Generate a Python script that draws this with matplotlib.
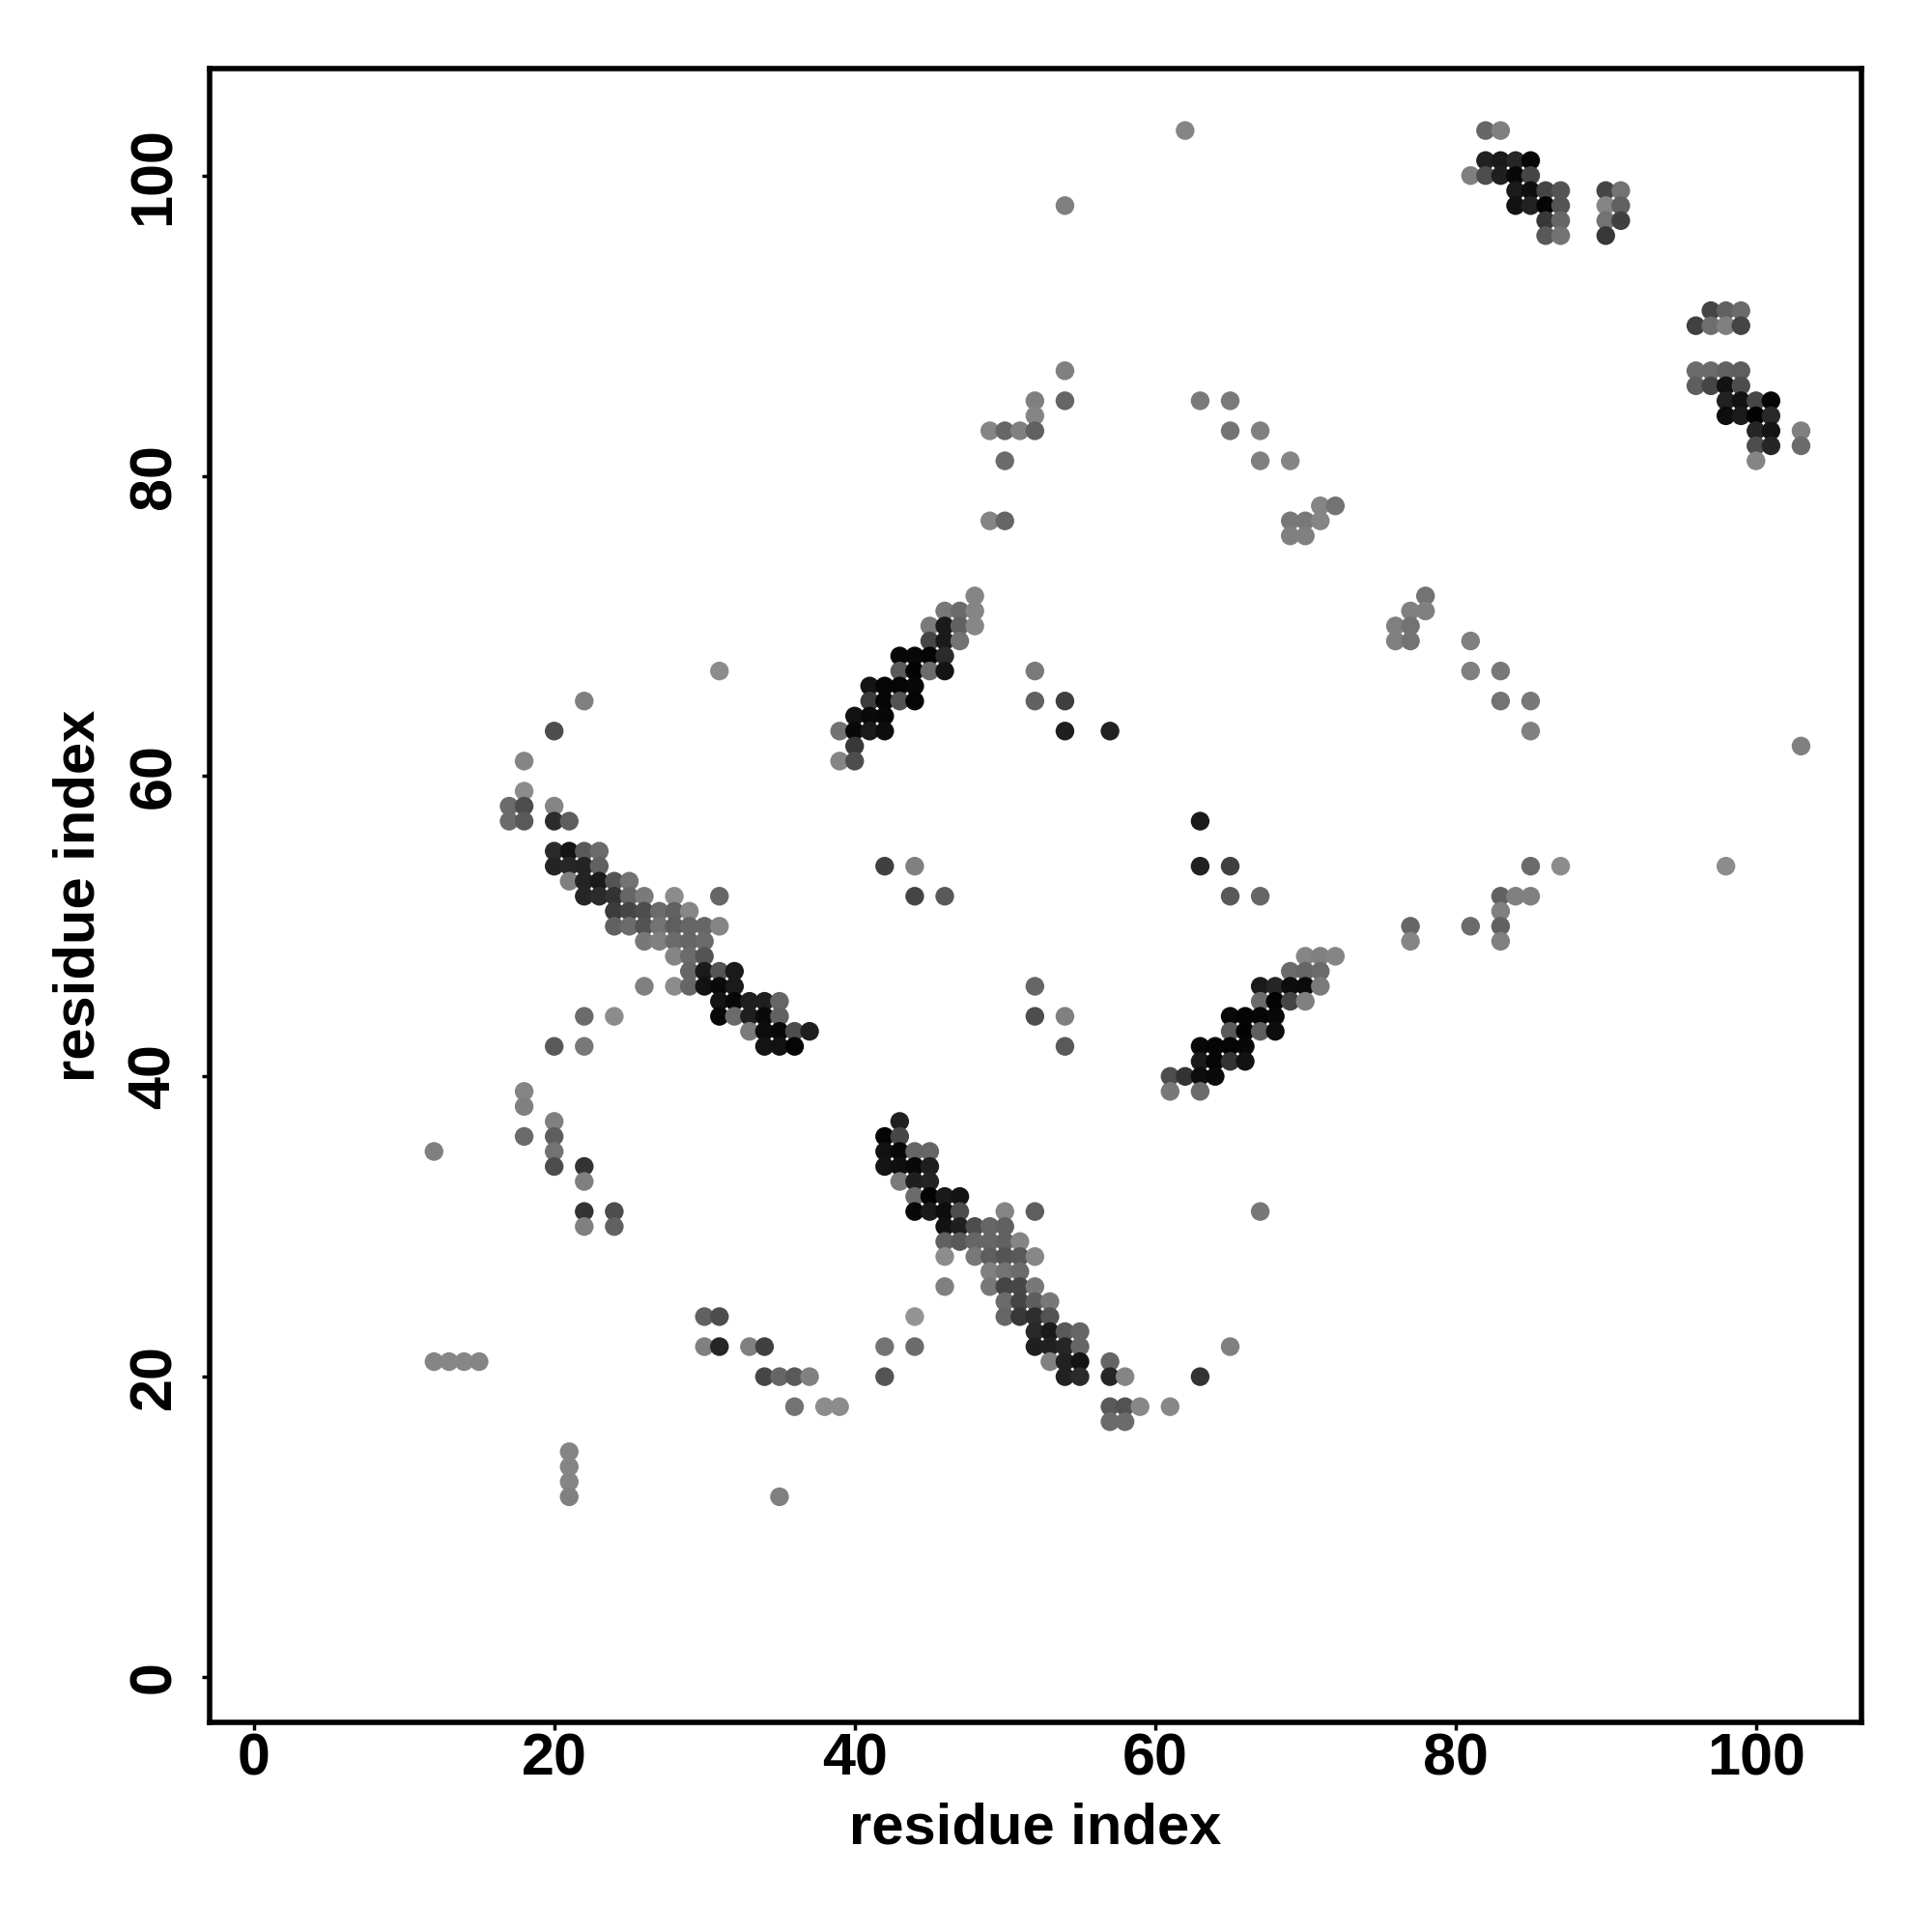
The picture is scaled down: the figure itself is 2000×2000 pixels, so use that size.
"""Residue contact map, grey level = contact strength."""
import matplotlib
matplotlib.use("Agg")
import matplotlib.pyplot as plt

plt.rcParams["font.family"] = ["Liberation Sans", "DejaVu Sans"]

# one entry per row of the map: y residue, x residues, grey level of each dot
row_y = [103, 101, 100, 99, 98, 97, 96, 91, 90, 87, 86, 85, 84, 83, 82, 81, 78, 77, 76,
         72, 71, 70, 69, 68, 67, 66, 65, 64, 63, 62, 61, 59, 58, 57, 55, 54, 53, 52, 51,
         50, 49, 48, 47, 46, 45, 44, 43, 42, 41, 40, 39, 38, 37, 36, 35, 34, 33, 32, 31,
         30, 29, 28, 27, 26, 25, 24, 23, 22, 21, 20, 18, 17, 15, 14, 13, 12]
row_x = [
    [62, 82, 83],
    [82, 83, 84, 85],
    [81, 82, 83, 84, 85],
    [84, 85, 86, 87, 90, 91],
    [54, 84, 85, 86, 87, 90, 91],
    [86, 87, 90, 91],
    [86, 87, 90],
    [97, 98, 99],
    [96, 97, 98, 99],
    [54, 96, 97, 98, 99],
    [96, 97, 98, 99],
    [52, 54, 63, 65, 98, 99, 100, 101],
    [52, 98, 99, 100, 101],
    [49, 50, 51, 52, 65, 67, 100, 101, 103],
    [100, 101, 103],
    [50, 67, 69, 100],
    [71, 72],
    [49, 50, 69, 70, 71],
    [69, 70],
    [48, 78],
    [46, 47, 48, 77, 78],
    [45, 46, 47, 48, 76, 77],
    [45, 46, 47, 76, 77, 81],
    [43, 44, 45, 46],
    [31, 43, 44, 45, 46, 52, 81, 83],
    [41, 42, 43, 44],
    [22, 41, 42, 43, 44, 52, 54, 83, 85],
    [40, 41, 42],
    [20, 39, 40, 41, 42, 54, 57, 85],
    [40, 103],
    [18, 39, 40],
    [18],
    [17, 18, 20],
    [17, 18, 20, 21, 63],
    [20, 21, 22, 23],
    [20, 21, 22, 23, 42, 44, 63, 65, 85, 87, 98],
    [21, 22, 23, 24, 25],
    [22, 23, 24, 25, 26, 28, 31, 44, 46, 65, 67, 83, 84, 85],
    [24, 25, 26, 27, 28, 29, 83],
    [24, 25, 26, 27, 28, 29, 30, 31, 77, 81, 83],
    [26, 27, 28, 29, 30, 77, 83],
    [28, 29, 30, 70, 71, 72],
    [29, 30, 31, 32, 69, 70, 71],
    [26, 28, 29, 30, 31, 32, 52, 67, 68, 69, 70, 71],
    [31, 32, 33, 34, 35, 67, 68, 69, 70],
    [22, 24, 31, 32, 33, 34, 35, 52, 54, 65, 66, 67, 68],
    [33, 34, 35, 36, 37, 65, 66, 67, 68],
    [20, 22, 34, 35, 36, 54, 63, 64, 65, 66],
    [63, 64, 65, 66],
    [61, 62, 63, 64],
    [18, 61, 63],
    [18],
    [20, 43],
    [18, 20, 42, 43],
    [12, 20, 42, 43, 44, 45],
    [20, 22, 42, 43, 44, 45],
    [22, 43, 44, 45],
    [44, 45, 46, 47],
    [22, 24, 44, 45, 46, 47, 50, 52, 67],
    [22, 24, 46, 47, 48, 49, 50],
    [46, 47, 48, 49, 50, 51],
    [46, 48, 49, 50, 51, 52],
    [49, 50, 51],
    [46, 49, 50, 51, 52],
    [50, 51, 52, 53],
    [30, 31, 44, 50, 51, 52, 53],
    [52, 53, 54, 55],
    [30, 31, 33, 34, 42, 44, 52, 53, 54, 55, 65],
    [12, 13, 14, 15, 53, 54, 55, 57],
    [34, 35, 36, 37, 42, 54, 55, 57, 58, 63],
    [36, 38, 39, 57, 58, 59, 61],
    [57, 58],
    [21],
    [21],
    [21],
    [21, 35],
]
row_grey = [
    [.52, .40, .50],
    [.13, .10, .15, .03],
    [.50, .30, .12, .03, .27],
    [.10, .06, .27, .33, .27, .45],
    [.50, .07, .13, .02, .33, .52, .38],
    [.22, .40, .45, .25],
    [.35, .45, .22],
    [.27, .38, .42],
    [.25, .43, .50, .27],
    [.50, .42, .42, .38, .37],
    [.37, .27, .07, .30],
    [.50, .40, .48, .48, .13, .07, .28, .02],
    [.52, .05, .10, .01, .16],
    [.52, .40, .50, .38, .45, .50, .15, .08, .50],
    [.30, .15, .42],
    [.42, .50, .52, .52],
    [.52, .45],
    [.52, .40, .47, .47, .52],
    [.50, .50],
    [.52, .45],
    [.47, .42, .52, .50, .50],
    [.48, .10, .38, .53, .50, .45],
    [.27, .10, .45, .50, .45, .50],
    [.03, .03, .02, .17],
    [.55, .35, .01, .42, .08, .48, .50, .47],
    [.08, .02, .02, .03],
    [.50, .23, .02, .32, .02, .38, .25, .45, .47],
    [.07, .04, .03],
    [.30, .45, .03, .10, .05, .12, .13, .50],
    [.22, .50],
    [.52, .52, .30],
    [.55],
    [.42, .30, .52],
    [.42, .35, .17, .37, .10],
    [.17, .08, .35, .42],
    [.14, .15, .14, .38, .25, .50, .13, .25, .42, .55, .55],
    [.50, .14, .10, .33, .45],
    [.15, .17, .20, .40, .48, .55, .40, .27, .35, .35, .40, .38, .50, .50],
    [.23, .27, .30, .42, .38, .53, .50],
    [.38, .42, .32, .45, .37, .40, .40, .52, .40, .42, .38],
    [.47, .50, .42, .40, .42, .52, .50],
    [.52, .42, .33, .52, .50, .52],
    [.40, .10, .33, .10, .42, .40, .42],
    [.50, .55, .40, .07, .04, .10, .40, .10, .15, .05, .04, .48],
    [.08, .03, .12, .12, .40, .42, .01, .27, .50],
    [.42, .55, .03, .42, .12, .04, .38, .30, .50, .03, .02, .02, .03],
    [.48, .05, .03, .30, .12, .35, .01, .37, .05],
    [.35, .47, .08, .07, .02, .35, .03, .02, .02, .03],
    [.10, .02, .20, .07],
    [.30, .20, .05, .04],
    [.52, .47, .42],
    [.50],
    [.50, .13],
    [.42, .37, .02, .28],
    [.50, .45, .07, .03, .40, .40],
    [.30, .20, .08, .06, .03, .12],
    [.50, .48, .12, .14],
    [.42, .01, .10, .08],
    [.20, .30, .03, .10, .05, .30, .52, .37, .47],
    [.50, .38, .07, .12, .30, .40, .38],
    [.38, .35, .40, .40, .38, .52],
    [.55, .47, .37, .33, .35, .53],
    [.50, .45, .42],
    [.50, .47, .27, .28, .47],
    [.42, .27, .37, .47],
    [.38, .30, .58, .40, .22, .18, .33],
    [.16, .10, .35, .40],
    [.50, .15, .50, .25, .45, .42, .12, .13, .15, .40, .50],
    [.52, .53, .53, .52, .50, .13, .08, .40],
    [.27, .40, .35, .50, .33, .13, .17, .15, .52, .20],
    [.45, .55, .55, .35, .32, .53, .53],
    [.42, .42],
    [.52],
    [.52],
    [.52],
    [.50, .50],
]
x_ticks = [0, 20, 40, 60, 80, 100]
y_ticks = [0, 20, 40, 60, 80, 100]
x_label = "residue index"
y_label = "residue index"


def main():
    fig = plt.figure(figsize=(20, 20), dpi=100)
    ax = fig.add_axes([0.1084, 0.1084, 0.8553, 0.8559])

    xs, ys, colors = [], [], []
    for y, cols, greys in zip(row_y, row_x, row_grey):
        for x, g in zip(cols, greys):
            xs.append(x)
            ys.append(y)
            colors.append(str(g))
    ax.scatter(xs, ys, s=195, c=colors, linewidths=0, zorder=3)

    ax.set_xlim(-2.95, 107.05)
    ax.set_ylim(-3.04, 107.1)
    ax.set_xticks(x_ticks)
    ax.set_yticks(y_ticks)
    ax.tick_params(axis="x", length=6, width=2.5, labelsize=44, pad=1.5)
    ax.tick_params(axis="y", length=6, width=2.5, labelsize=44, pad=14)
    for lab in ax.get_xticklabels():
        lab.set_fontweight("bold")
    for lab in ax.get_yticklabels():
        lab.set_fontweight("bold")
        lab.set_rotation(90)
        lab.set_va("center")
    for sp in ax.spines.values():
        sp.set_linewidth(4)
    ax.set_xlabel(x_label, fontsize=43, fontweight="bold", labelpad=11)
    ax.set_ylabel(y_label, fontsize=43, fontweight="bold", labelpad=16)

    fig.savefig("out.png", dpi=100)
    plt.close(fig)


if __name__ == "__main__":
    main()
